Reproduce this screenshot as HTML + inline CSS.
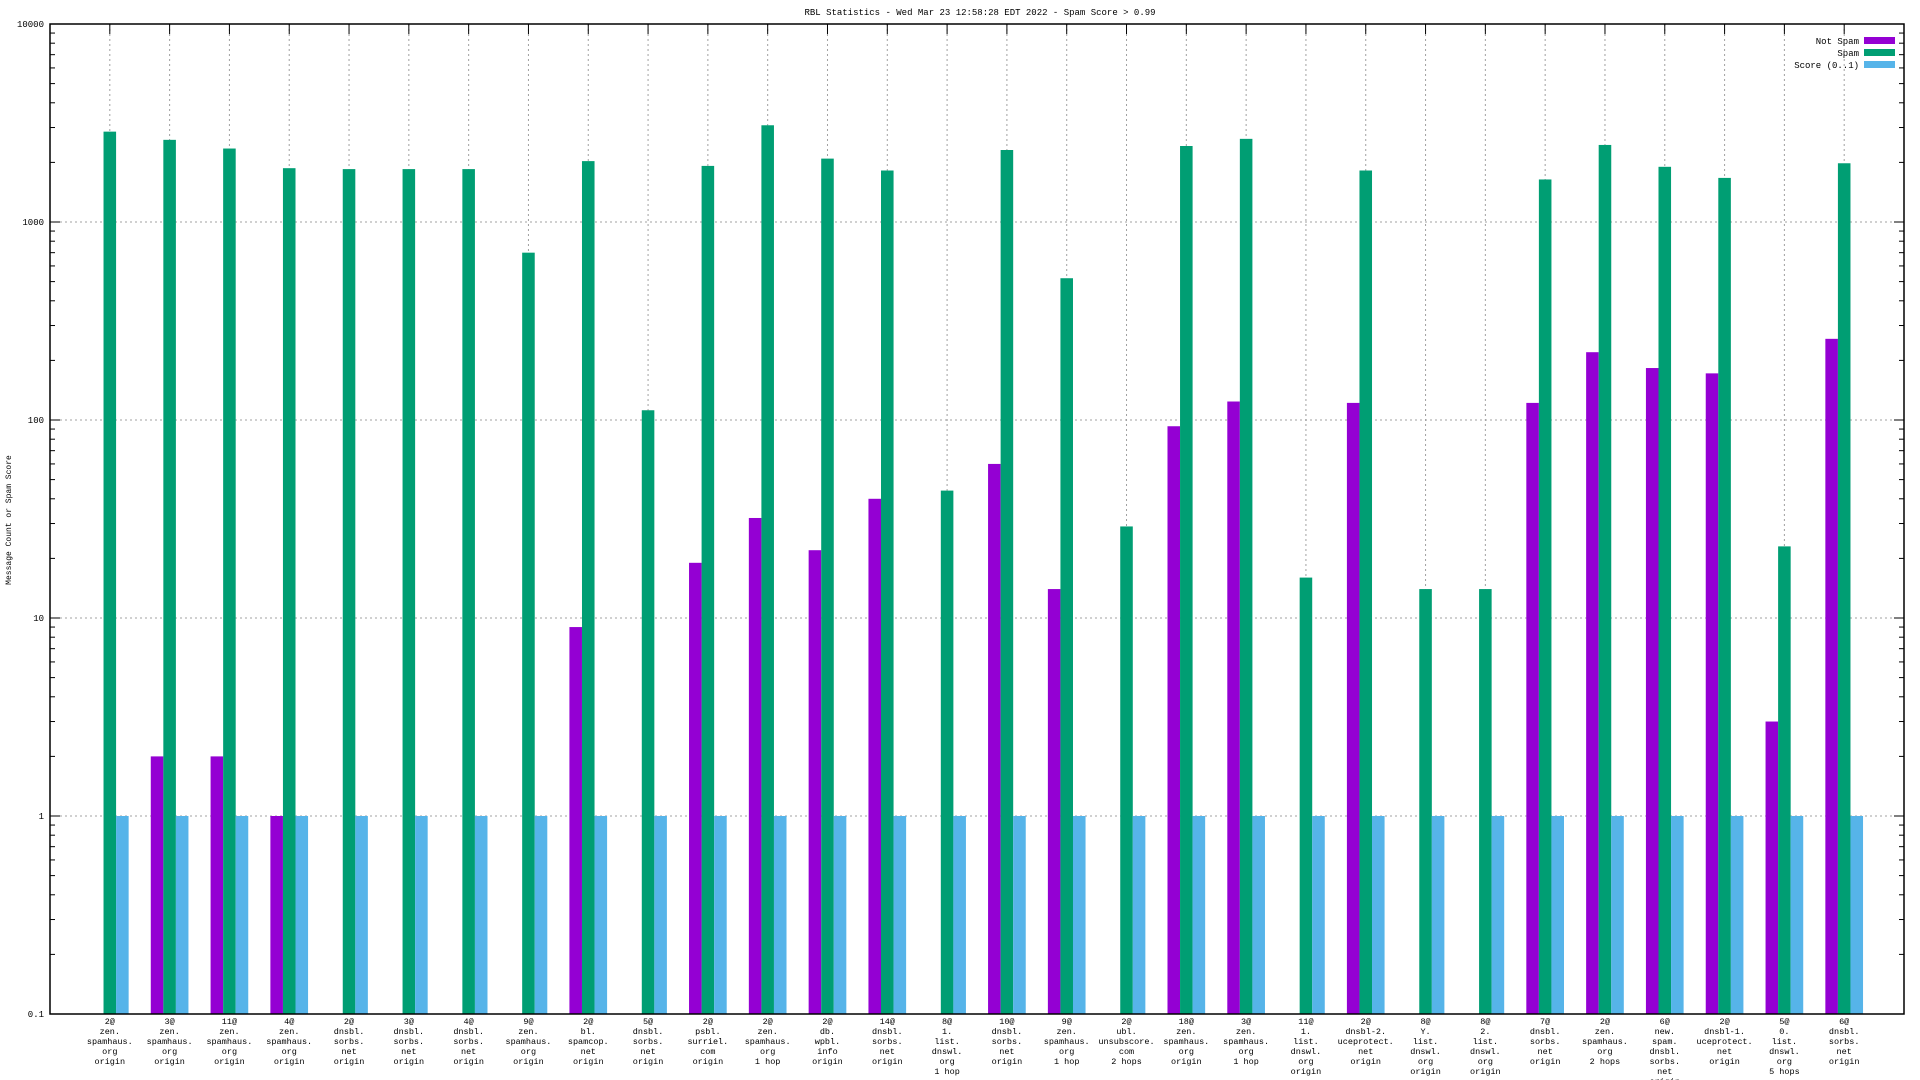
<!DOCTYPE html>
<html><head><meta charset="utf-8"><style>
html,body{margin:0;padding:0;background:#fff;}
svg{display:block;font-family:"Liberation Mono","DejaVu Sans Mono",monospace;}
</style></head><body>
<svg id="chart" width="1920" height="1080" viewBox="0 0 1920 1080" xmlns="http://www.w3.org/2000/svg">
<text x="980" y="15" font-size="9" text-anchor="middle" fill="#000">RBL Statistics - Wed Mar 23 12:58:28 EDT 2022 - Spam Score &gt; 0.99</text>
<text x="0" y="0" font-size="8" text-anchor="middle" fill="#000" transform="translate(11,520) rotate(-90)">Message Count or Spam Score</text>
<g id="grid"></g><g id="bars"></g><g id="axes"></g><g id="labels"></g>
<g>
<text x="1859" y="44" font-size="9" text-anchor="end">Not Spam</text>
<rect x="1864" y="37" width="31" height="7" fill="#9400d3"/>
<text x="1859" y="56" font-size="9" text-anchor="end">Spam</text>
<rect x="1864" y="49" width="31" height="7" fill="#009e73"/>
<text x="1859" y="68" font-size="9" text-anchor="end">Score (0..1)</text>
<rect x="1864" y="61" width="31" height="7" fill="#56b4e9"/>
</g>
</svg>
<script>
const categories = [
"2@|zen.|spamhaus.|org|origin","3@|zen.|spamhaus.|org|origin","11@|zen.|spamhaus.|org|origin","4@|zen.|spamhaus.|org|origin",
"2@|dnsbl.|sorbs.|net|origin","3@|dnsbl.|sorbs.|net|origin","4@|dnsbl.|sorbs.|net|origin","9@|zen.|spamhaus.|org|origin",
"2@|bl.|spamcop.|net|origin","5@|dnsbl.|sorbs.|net|origin","2@|psbl.|surriel.|com|origin","2@|zen.|spamhaus.|org|1 hop",
"2@|db.|wpbl.|info|origin","14@|dnsbl.|sorbs.|net|origin","8@|1.|list.|dnswl.|org|1 hop","10@|dnsbl.|sorbs.|net|origin",
"9@|zen.|spamhaus.|org|1 hop","2@|ubl.|unsubscore.|com|2 hops","18@|zen.|spamhaus.|org|origin","3@|zen.|spamhaus.|org|1 hop",
"11@|1.|list.|dnswl.|org|origin","2@|dnsbl-2.|uceprotect.|net|origin","8@|Y.|list.|dnswl.|org|origin","8@|2.|list.|dnswl.|org|origin",
"7@|dnsbl.|sorbs.|net|origin","2@|zen.|spamhaus.|org|2 hops","6@|new.|spam.|dnsbl.|sorbs.|net|origin","2@|dnsbl-1.|uceprotect.|net|origin",
"5@|0.|list.|dnswl.|org|5 hops","6@|dnsbl.|sorbs.|net|origin"];
const notSpam = [0,2,2,1,0,0,0,0,9,0,19,32,22,40,0,60,14,0,93,124,0,122,0,0,122,220,183,172,3,257];
const spam = [2860,2600,2350,1870,1850,1850,1850,700,2030,112,1920,3080,2090,1820,44,2310,520,29,2420,2630,16,1820,14,14,1640,2450,1900,1670,23,1980];
const score = [1,1,1,1,1,1,1,1,1,1,1,1,1,1,1,1,1,1,1,1,1,1,1,1,1,1,1,1,1,1];
const yTickValues = [0.1,1,10,100,1000,10000];
const yTickLabels = ["0.1","1","10","100","1000","10000"];

const NS="http://www.w3.org/2000/svg";
const L=50,R=1904,T=24,B=1014;
const xs=i=>L+(R-L)*(i+1)/(categories.length+1);
const ys=v=>B-(Math.log10(v)-Math.log10(0.1))/(5)*(B-T);
const bw=(R-L)/(categories.length+1)*0.21;
function mk(tag,attrs,parent){const e=document.createElementNS(NS,tag);for(const k in attrs)e.setAttribute(k,attrs[k]);parent.appendChild(e);return e;}
const grid=document.getElementById('grid'),bars=document.getElementById('bars'),axes=document.getElementById('axes'),labels=document.getElementById('labels');
yTickValues.forEach((v,i)=>{
  const y=ys(v);
  if(i>0&&i<yTickValues.length-1){const g=mk('line',{x1:L,x2:R,y1:y,y2:y,stroke:'#a0a0a0','stroke-dasharray':'2,3'},grid);
  
  }
  const t=mk('text',{x:L-6,y:y+3,'font-size':9,'text-anchor':'end'},axes);t.textContent=yTickLabels[i];
  
  
  mk('line',{x1:L,x2:L+10,y1:y,y2:y,stroke:'#000','stroke-width':1},axes);
  mk('line',{x1:R,x2:R-10,y1:y,y2:y,stroke:'#000','stroke-width':1},axes);
  if(i<yTickValues.length-1){for(let m=2;m<10;m++){const ym=ys(v*m);
    mk('line',{x1:L,x2:L+5,y1:ym,y2:ym,stroke:'#000'},axes);
    mk('line',{x1:R,x2:R-5,y1:ym,y2:ym,stroke:'#000'},axes);}}
});
categories.forEach((c,i)=>{
  const x=xs(i);
  const g=mk('line',{x1:x,x2:x,y1:T,y2:B,stroke:'#a0a0a0','stroke-dasharray':'2,3'},grid);
  
  
  mk('line',{x1:x,x2:x,y1:T,y2:T+10,stroke:'#000'},axes);
  const series=[[notSpam,'#9400d3','not-spam',-1],[spam,'#009e73','spam',0],[score,'#56b4e9','score',1]];
  series.forEach(([arr,col,nm,off])=>{
    const v=arr[i]; if(!(v>0))return;
    const y=ys(v);
    const r=mk('rect',{x:x+off*bw-bw/2,y:y,width:bw,height:B-y,fill:col},bars);
    
    
  });
  const t=mk('text',{x:x,y:1024,'font-size':8.5,'text-anchor':'middle'},labels);
  
  
  c.split('|').forEach((ln,j)=>{const s=mk('tspan',{x:x,dy:j?10:0},t);s.textContent=ln;});
});
const fr=mk('rect',{x:L,y:T,width:R-L,height:B-T,fill:'none',stroke:'#000','stroke-width':1.5},axes);


</script>
</body></html>
